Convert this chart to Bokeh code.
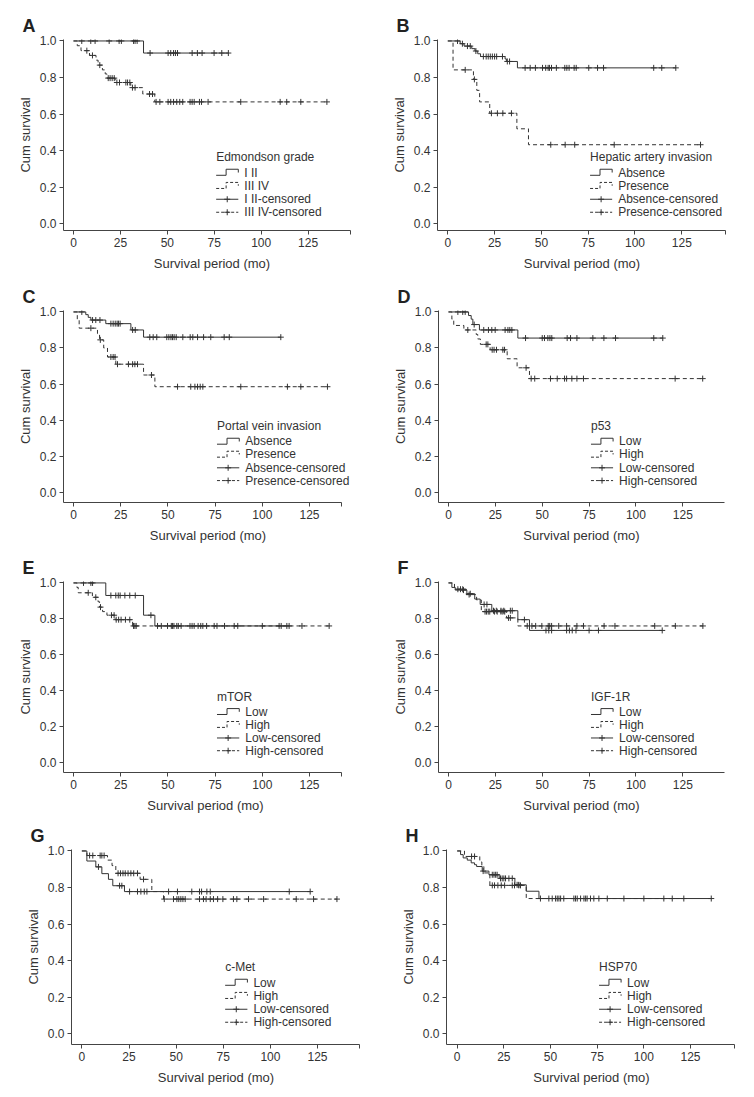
from bokeh.plotting import figure
from bokeh.layouts import row, column
from bokeh.models import FixedTicker, PrintfTickFormatter, Label
from bokeh.embed import file_html
from bokeh.resources import INLINE

# ---------------- data ----------------
# each group: event times, survival after each event, censor times
A_lo_t = [37.3]
A_lo_s = [0.934]
A_lo_c = [4.4, 9.2, 11.5, 19.0, 24.3, 25.5, 32.0, 32.8, 33.9, 40.8, 50.4, 51.8, 53.3, 54.3, 55.4,
          63.2, 66.0, 68.5, 74.9, 79.0, 82.5]
A_hi_t = [2.0, 4.0, 8.5, 12.0, 13.1, 15.4, 16.9, 17.8, 22.2, 30.5, 36.9, 43.3]
A_hi_s = [0.974, 0.947, 0.921, 0.895, 0.868, 0.842, 0.82, 0.797, 0.773, 0.745, 0.71, 0.667]
A_hi_c = [7.1, 10.1, 14.0, 18.5, 19.5, 20.6, 21.7, 23.1, 24.5, 27.9, 28.8, 30.0, 31.4, 32.8, 40.5,
          42.1, 44.0, 46.0, 50.4, 51.8, 53.3, 55.0, 56.6, 58.2, 62.1, 63.2, 64.3, 67.1, 68.2, 71.7,
          89.1, 110.1, 113.6, 121.1, 135.0]

B_lo_t = [6.6, 8.7, 12.8, 14.5, 16.0, 17.5, 30.6, 31.3, 37.2]
B_lo_s = [0.985, 0.972, 0.958, 0.945, 0.93, 0.915, 0.902, 0.888, 0.853]
B_lo_c = [5.2, 7.8, 10.5, 12.0, 15.0, 19.0, 20.5, 21.6, 22.7, 23.8, 25.0, 26.1, 29.2, 31.8, 33.0,
          41.3, 44.0, 46.8, 50.6, 52.3, 53.6, 54.3, 55.4, 58.0, 62.5, 63.6, 64.8, 67.5, 68.6, 75.3,
          80.0, 83.2, 110.0, 114.3, 121.8]
B_hi_t = [2.8, 13.7, 15.5, 17.0, 22.4, 36.9, 43.1]
B_hi_s = [0.842, 0.79, 0.73, 0.667, 0.605, 0.52, 0.433]
B_hi_c = [9.3, 14.2, 23.3, 26.5, 29.4, 34.0, 55.0, 62.7, 67.8, 88.9, 135.0]

C_lo_t = [6.5, 7.8, 9.2, 17.1, 30.4, 37.1]
C_lo_s = [0.985, 0.97, 0.955, 0.935, 0.90, 0.86]
C_lo_c = [4.4, 10.1, 11.8, 14.0, 19.8, 21.0, 22.1, 23.1, 23.8, 24.7, 31.3, 32.7, 40.4, 42.2, 44.1,
          49.4, 50.5, 51.6, 52.4, 53.3, 54.4, 57.9, 61.8, 63.2, 65.7, 68.9, 72.7, 79.8, 82.5, 109.8]
C_hi_t = [2.0, 3.0, 12.7, 13.8, 16.0, 18.0, 22.4, 37.1, 43.1]
C_hi_s = [0.955, 0.91, 0.88, 0.845, 0.80, 0.75, 0.71, 0.65, 0.585]
C_hi_c = [9.2, 14.2, 19.8, 21.0, 22.0, 23.3, 29.1, 31.3, 32.5, 33.9, 41.3, 55.1, 62.1, 64.3, 65.7,
          67.1, 68.5, 88.6, 113.3, 120.4, 134.5]

D_lo_t = [10.7, 12.1, 13.0, 16.5, 37.0]
D_lo_s = [0.98, 0.96, 0.93, 0.90, 0.855]
D_lo_c = [5.0, 7.6, 8.9, 13.7, 18.8, 21.3, 23.1, 24.9, 30.2, 31.7, 32.7, 33.8, 41.1, 50.0, 51.2,
          53.0, 54.1, 55.1, 63.3, 65.1, 68.5, 77.0, 82.9, 89.1, 109.5, 114.3]
D_hi_t = [1.8, 2.8, 8.2, 14.8, 15.6, 17.0, 22.2, 31.3, 36.6, 43.2]
D_hi_s = [0.96, 0.925, 0.90, 0.875, 0.85, 0.82, 0.79, 0.74, 0.69, 0.63]
D_hi_c = [10.3, 20.1, 21.0, 23.3, 24.3, 25.6, 29.0, 29.9, 41.4, 44.1, 46.0, 54.4, 58.0, 61.9, 63.0,
          65.8, 68.5, 72.0, 120.9, 135.6]

E_lo_t = [17.1, 37.1, 43.1]
E_lo_s = [0.93, 0.82, 0.76]
E_lo_c = [5.3, 9.2, 10.1, 19.8, 22.4, 23.7, 24.7, 27.2, 29.8, 32.7, 41.0, 44.5, 49.8, 52.4, 54.7,
          63.9, 67.4, 74.5, 85.1, 108.9, 114.2]
E_hi_t = [1.8, 2.5, 10.0, 13.0, 13.8, 15.4, 17.7, 22.0, 31.3]
E_hi_s = [0.975, 0.945, 0.92, 0.895, 0.865, 0.84, 0.82, 0.795, 0.76]
E_hi_c = [7.8, 11.8, 14.3, 20.1, 21.5, 22.6, 23.9, 25.2, 27.5, 29.8, 31.8, 32.5, 33.2, 46.5, 51.8,
          53.2, 55.5, 57.0, 61.7, 62.8, 66.0, 68.5, 70.5, 76.0, 80.0, 87.0, 100.0, 110.0, 113.0,
          121.0, 135.4]

F_lo_t = [1.8, 3.6, 9.8, 14.0, 16.9, 23.1, 37.0, 43.2]
F_lo_s = [0.975, 0.96, 0.94, 0.91, 0.88, 0.845, 0.795, 0.735]
F_lo_c = [8.0, 11.6, 19.0, 20.5, 24.0, 25.5, 28.0, 29.5, 33.0, 34.0, 40.5, 52.0, 53.5, 55.0, 63.0,
          64.5, 66.0, 68.0, 75.0, 80.0, 114.0]
F_hi_t = [3.2, 9.5, 15.0, 17.5, 31.0, 37.0]
F_hi_s = [0.965, 0.935, 0.905, 0.84, 0.805, 0.76]
F_hi_c = [5.0, 6.4, 7.6, 11.0, 19.5, 20.3, 21.2, 22.0, 24.5, 26.0, 28.0, 29.0, 30.0, 32.0, 33.0,
          42.0, 44.5, 46.5, 49.8, 53.2, 54.0, 55.0, 58.8, 63.0, 68.5, 72.0, 83.0, 88.8, 110.0,
          121.0, 135.7]

G_lo_t = [2.65, 7.4, 10.6, 14.1, 16.4, 22.6]
G_lo_s = [0.945, 0.913, 0.876, 0.845, 0.81, 0.778]
G_lo_c = [8.8, 20.0, 21.2, 25.3, 29.5, 31.3, 33.1, 34.5, 46.0, 50.7, 58.3, 62.4, 63.5, 66.3, 68.1,
          110.0, 121.1]
G_hi_t = [2.7, 13.6, 16.0, 18.0, 30.9, 37.1, 43.3]
G_hi_s = [0.975, 0.95, 0.92, 0.878, 0.845, 0.778, 0.737]
G_hi_c = [4.1, 5.8, 9.7, 10.6, 11.8, 19.2, 20.5, 21.8, 23.0, 24.5, 26.0, 27.5, 29.5, 32.7, 43.7,
          48.6, 50.4, 51.4, 52.5, 53.6, 54.8, 62.4, 64.5, 65.9, 68.1, 69.8, 72.0, 74.8, 80.4, 82.2,
          88.4, 96.4, 113.7, 122.9, 135.3]

H_lo_t = [1.8, 3.2, 5.4, 7.5, 9.3, 10.4, 13.4, 17.0, 22.5, 30.9, 37.0, 43.8]
H_lo_s = [0.98, 0.962, 0.95, 0.935, 0.925, 0.915, 0.89, 0.87, 0.85, 0.815, 0.78, 0.74]
H_lo_c = [13.9, 18.8, 19.7, 20.6, 21.4, 23.2, 24.1, 25.0, 25.9, 27.7, 29.5, 32.1, 33.0, 44.6, 50.9,
          53.6, 55.4, 62.5, 64.3, 67.9, 69.6, 73.2, 80.4, 89.3, 110.7, 136.1]
H_hi_t = [3.9, 12.1, 13.2, 14.3, 17.5, 37.0]
H_hi_s = [0.97, 0.94, 0.915, 0.88, 0.812, 0.74]
H_hi_c = [7.7, 9.3, 18.8, 20.0, 21.8, 23.6, 25.4, 29.5, 30.7, 33.0, 33.9, 49.1, 52.7, 54.5, 57.1,
          63.4, 66.1, 68.8, 71.4, 75.9, 100.0, 115.2, 121.4]

PANEL_LETTERS = ["A", "B", "C", "D", "E", "F", "G", "H"]
LEGEND_TITLES = ["Edmondson grade", "Hepatic artery invasion", "Portal vein invasion",
                 "p53", "mTOR", "IGF-1R", "c-Met", "HSP70"]
GROUP_NAMES = [["I II", "III IV"], ["Absence", "Presence"], ["Absence", "Presence"],
               ["Low", "High"], ["Low", "High"], ["Low", "High"], ["Low", "High"], ["Low", "High"]]
X_TICKS = [0, 25, 50, 75, 100, 125]
Y_TICKS = [0.0, 0.2, 0.4, 0.6, 0.8, 1.0]
X_LABEL = "Survival period (mo)"
Y_LABEL = "Cum survival"

GROUPS = [
    ((A_lo_t, A_lo_s, A_lo_c), (A_hi_t, A_hi_s, A_hi_c)),
    ((B_lo_t, B_lo_s, B_lo_c), (B_hi_t, B_hi_s, B_hi_c)),
    ((C_lo_t, C_lo_s, C_lo_c), (C_hi_t, C_hi_s, C_hi_c)),
    ((D_lo_t, D_lo_s, D_lo_c), (D_hi_t, D_hi_s, D_hi_c)),
    ((E_lo_t, E_lo_s, E_lo_c), (E_hi_t, E_hi_s, E_hi_c)),
    ((F_lo_t, F_lo_s, F_lo_c), (F_hi_t, F_hi_s, F_hi_c)),
    ((G_lo_t, G_lo_s, G_lo_c), (G_hi_t, G_hi_s, G_hi_c)),
    ((H_lo_t, H_lo_s, H_lo_c), (H_hi_t, H_hi_s, H_hi_c)),
]

# ---------------- layout / style ----------------
# per panel: figure width, border left, border right, x start, px per month, end of drawn x axis
X_GEOM = [(377, 63, 17, -5.33, 1.877, 147.6), (369, 60, 20, -5.5, 1.872, 148.3),
          (377, 63, 25, -5.3, 1.888, 141.9), (369, 61, 22, -5.33, 1.8747, 147.8),
          (377, 63, 30, -5.3, 1.888, 141.9), (369, 61, 22, -5.33, 1.8747, 147.8),
          (377, 71, 17, -5.5, 1.8853, 147.3), (369, 69, 10, -5.73, 1.8667, 148.6)]
# per row: height, border top, border bottom, y start, y end
ROW_GEOM = [(275, 39, 45, -0.0357, 1.008), (270, 35, 40, -0.0576, 1.008),
            (270, 36, 39, -0.0576, 1.008), (274, 34, 45, -0.0576, 1.008)]
FONT = "Liberation Sans"
INK = "#333333"
AX = "#444444"
DASH = "4 3"
TICK_FS = "12px"
AXIS_FS = "13px"
LEG_FS = "12px"
LEG_X = 76.0
LEG_W = 11.8
LEG_TXT_DX = 15.0
LEG_TITLE_Y = 0.365
LEG_ROWS_Y = [0.281, 0.209, 0.135, 0.064]
STEP_DN = 0.015
STEP_UP = 0.018


def surv_at(times, surv, t):
    s = 1.0
    for ti, si in zip(times, surv):
        if ti <= t:
            s = si
    return s


def make_panel(i):
    letter = PANEL_LETTERS[i]
    w, bl, br, x0, scale, x_axis_end = X_GEOM[i]
    x1 = x0 + (w - bl - br) / scale
    h, bt, bb, y0, y1 = ROW_GEOM[i // 2]
    p = figure(width=w, height=h, x_range=(x0, x1), y_range=(y0, y1),
               output_backend="svg", toolbar_location=None, title=letter,
               min_border_left=bl, min_border_right=br,
               min_border_top=bt, min_border_bottom=bb)
    p.outline_line_color = None
    p.grid.visible = False
    p.background_fill_color = "white"
    p.border_fill_color = "white"
    p.title.align = "left"
    p.title.offset = -41
    p.title.standoff = 7
    p.title.text_font = FONT
    p.title.text_font_size = "18px"
    p.title.text_font_style = "bold"
    p.title.text_color = "#222222"

    xend_tick = round(x_axis_end - 0.05, 2)
    p.xaxis.bounds = (x0, x_axis_end)
    p.xaxis.ticker = FixedTicker(ticks=X_TICKS + [xend_tick])
    p.xaxis.major_label_overrides = {xend_tick: ""}
    p.yaxis.ticker = FixedTicker(ticks=Y_TICKS)
    p.yaxis.formatter = PrintfTickFormatter(format="%.1f")
    p.xaxis.axis_label = X_LABEL
    p.yaxis.axis_label = Y_LABEL
    for ax in (p.xaxis, p.yaxis):
        ax.axis_line_color = AX
        ax.major_tick_line_color = AX
        ax.minor_tick_line_color = None
        ax.major_tick_out = 4
        ax.major_tick_in = 0
        ax.major_label_text_font = FONT
        ax.major_label_text_font_size = TICK_FS
        ax.major_label_text_color = INK
        ax.axis_label_text_font = FONT
        ax.axis_label_text_font_size = AXIS_FS
        ax.axis_label_text_font_style = "normal"
        ax.axis_label_text_color = INK
        ax.major_label_standoff = 3
    p.xaxis.axis_label_standoff = 6
    p.yaxis.axis_label_standoff = 4

    for g, (times, surv, cens) in enumerate(GROUPS[i]):
        dash = "solid" if g == 0 else DASH
        end = max(list(times) + list(cens))
        xs = [0.0] + list(times) + [end]
        ys = [1.0] + list(surv) + [surv[-1] if surv else 1.0]
        p.step(xs, ys, mode="after", line_color=INK, line_width=1, line_dash=dash)
        cy = [surv_at(times, surv, c) for c in cens]
        p.scatter(cens, cy, marker="cross", size=6, line_color=INK, line_width=1)

    # legend (drawn manually to mimic the step / censor symbols)
    names = GROUP_NAMES[i]
    labels = [names[0], names[1], names[0] + "-censored", names[1] + "-censored"]
    xm = LEG_X + 0.45 * LEG_W
    for k in range(2):
        r = LEG_ROWS_Y[k]
        p.line([LEG_X, xm, xm, LEG_X + LEG_W, LEG_X + LEG_W],
               [r - STEP_DN, r - STEP_DN, r + STEP_UP, r + STEP_UP, r],
               line_color=INK, line_width=1, line_dash="solid" if k == 0 else "3 2")
    for k in range(2):
        r = LEG_ROWS_Y[k + 2]
        p.line([LEG_X, LEG_X + LEG_W], [r, r], line_color=INK, line_width=1,
               line_dash="solid" if k == 0 else "3 2")
        p.scatter([LEG_X + LEG_W / 2], [r], marker="cross", size=6, line_color=INK, line_width=1)
    texts = [LEGEND_TITLES[i]] + labels
    xs_t = [LEG_X] + [LEG_X + LEG_TXT_DX] * 4
    ys_t = [LEG_TITLE_Y] + LEG_ROWS_Y
    for tx, xx, yy in zip(texts, xs_t, ys_t):
        p.add_layout(Label(x=xx, y=yy, text=tx, text_font=FONT, text_font_size=LEG_FS,
                           text_baseline="middle", text_align="left", text_color=INK))
    return p


panels = [make_panel(i) for i in range(8)]
layout = column(row(panels[0], panels[1]), row(panels[2], panels[3]),
                row(panels[4], panels[5]), row(panels[6], panels[7]))

open("out.html", "w").write(file_html(layout, INLINE))
